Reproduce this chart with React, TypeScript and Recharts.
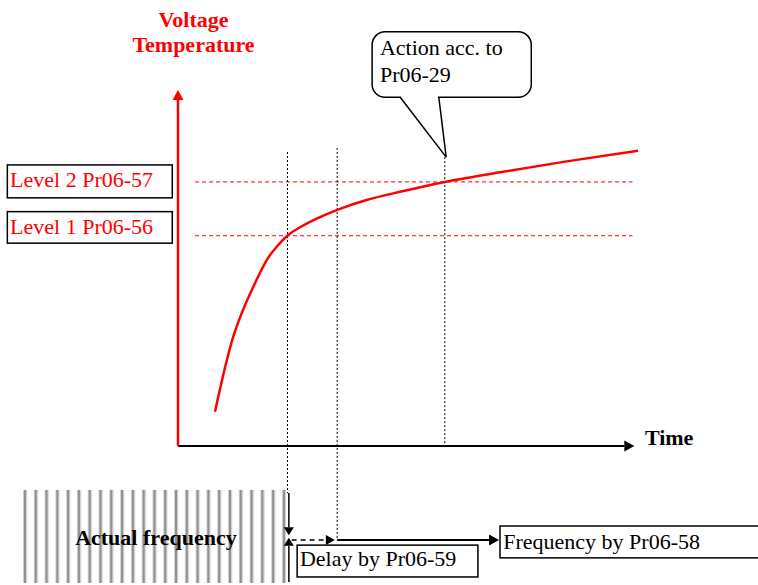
import React from 'react';
import { ComposedChart, Line, XAxis, YAxis, ReferenceLine, ReferenceArea, ReferenceDot } from 'recharts';

// time (x) and voltage/temperature (y) of the rising curve
const timeValues = [8.04, 12.02, 16.37, 19.28, 21.46, 23.76, 26.52, 30.15, 34.63, 41.0, 48.26, 58.04, 70.0, 84.5, 100];
const signalValues = [9.7, 30.9, 45.0, 52.5, 56.3, 59.4, 61.8, 64.2, 66.7, 69.5, 71.8, 74.6, 77.3, 80.4, 83.4];

// level thresholds
const levelValues = [59.4, 74.6];
const levelLabels = ['Level 1 Pr06-56', 'Level 2 Pr06-57'];
const levelBoxBottoms = [57.3, 70.1];
const levelBoxTops = [66.2, 79.4];
const levelTextY = [59.9, 73.2];

// event times: level 1 crossed, delay elapsed, level 2 crossed
const markerTimes = [23.8, 34.6, 58.0];
const markerTops = [83.05, 84.2, 81.6];
const markerBottoms = [-13.3, -26.55, 0];

const curveData = timeValues.map((t, i) => ({ t, v: signalValues[i] }));

const FONT = '"Liberation Serif", "Times New Roman", serif';
const RED = '#ff0000';

type Note = { x: number; y: number; text: string; anchor: 'start' | 'middle' | 'end'; color: string; bold?: boolean };

const notes: Note[] = [
  { x: 3.37, y: 118.4, text: 'Voltage', anchor: 'middle', color: RED, bold: true },
  { x: 3.37, y: 111.3, text: 'Temperature', anchor: 'middle', color: RED, bold: true },
  { x: 101.5, y: 0.28, text: 'Time', anchor: 'start', color: '#000', bold: true },
  { x: -36.5, y: levelTextY[1], text: levelLabels[1], anchor: 'start', color: RED },
  { x: -36.5, y: levelTextY[0], text: levelLabels[0], anchor: 'start', color: RED },
  { x: 43.9, y: 110.5, text: 'Action acc. to', anchor: 'start', color: '#000' },
  { x: 43.9, y: 102.8, text: 'Pr06-29', anchor: 'start', color: '#000' },
  { x: -4.8, y: -28.0, text: 'Actual frequency', anchor: 'middle', color: '#000', bold: true },
  { x: 26.5, y: -33.9, text: 'Delay by Pr06-59', anchor: 'start', color: '#000' },
  { x: 70.7, y: -29.1, text: 'Frequency by Pr06-58', anchor: 'start', color: '#000' },
];

const textShape = (n: Note) => (p: any) => (
  <text
    x={p.cx}
    y={p.cy}
    textAnchor={n.anchor}
    fill={n.color}
    fontWeight={n.bold ? 'bold' : 'normal'}
    fontSize={22}
    fontFamily={FONT}
  >
    {n.text}
  </text>
);

const arrowShape = (color: string, width: number, dash?: string, hl = 10, hw = 5.5) => (p: any) => {
  const { x1, y1, x2, y2 } = p;
  const dx = x2 - x1;
  const dy = y2 - y1;
  const len = Math.hypot(dx, dy) || 1;
  const ux = dx / len;
  const uy = dy / len;
  const bx = x2 - ux * hl;
  const by = y2 - uy * hl;
  return (
    <g>
      <line x1={x1} y1={y1} x2={bx} y2={by} stroke={color} strokeWidth={width} strokeDasharray={dash} />
      <polygon
        points={`${x2},${y2} ${bx - uy * hw},${by + ux * hw} ${bx + uy * hw},${by - ux * hw}`}
        fill={color}
      />
    </g>
  );
};

const plainLine = (color: string, width: number, dash?: string) => (p: any) => (
  <line x1={p.x1} y1={p.y1} x2={p.x2} y2={p.y2} stroke={color} strokeWidth={width} strokeDasharray={dash} />
);

const boxShape = (rx = 0) => (p: any) => (
  <rect x={p.x} y={p.y} width={p.width} height={p.height} rx={rx} ry={rx} fill="#fff" stroke="#000" strokeWidth={1.5} />
);

const stripeShape = (p: any) => (
  <g>
    <defs>
      <pattern id="freqStripes" patternUnits="userSpaceOnUse" x={p.x} y={p.y} width={10.79} height={10}>
        <rect x={0} y={0} width={1} height={10} fill="#d0d0d0" />
        <rect x={1} y={0} width={2.2} height={10} fill="#8f8f8f" />
        <rect x={3.2} y={0} width={1} height={10} fill="#c8c8c8" />
      </pattern>
    </defs>
    <rect x={p.x} y={p.y} width={p.width} height={p.height} fill="url(#freqStripes)" />
  </g>
);

export default function App() {
  return (
    <div style={{ position: 'fixed', left: 0, top: 0, width: 758, height: 585, background: '#fff' }}>
      <ComposedChart
        width={758}
        height={585}
        data={curveData}
        margin={{ top: 92, right: 120, bottom: 139, left: 178 }}
      >
        <XAxis dataKey="t" type="number" domain={[0, 100]} hide />
        <YAxis type="number" domain={[0, 100]} hide />

        {/* striped actual-frequency block */}
        <ReferenceArea x1={-33.7} x2={23.6} y1={-38.7} y2={-12.4} ifOverflow="visible" shape={stripeShape} />

        {/* level label boxes */}
        {levelValues.map((lv, i) => (
          <ReferenceArea
            key={`lb${i}`}
            x1={-37.1}
            x2={-1.24}
            y1={levelBoxBottoms[i]}
            y2={levelBoxTops[i]}
            ifOverflow="visible"
            shape={boxShape(0)}
          />
        ))}

        {/* delay / frequency boxes */}
        <ReferenceArea x1={25.9} x2={65.2} y1={-37.0} y2={-28.0} ifOverflow="visible" shape={boxShape(0)} />
        <ReferenceArea x1={70.0} x2={126.5} y1={-31.6} y2={-22.6} ifOverflow="visible" shape={boxShape(0)} />

        {/* callout */}
        <ReferenceArea x1={42.2} x2={76.8} y1={98.5} y2={117.0} ifOverflow="visible" shape={boxShape(13)} />
        <ReferenceLine segment={[{ x: 48.5, y: 98.5 }, { x: 56.5, y: 98.5 }]} ifOverflow="visible" shape={plainLine('#fff', 3)} />
        <ReferenceLine segment={[{ x: 48.3, y: 98.5 }, { x: 58.3, y: 81.6 }]} ifOverflow="visible" shape={plainLine('#000', 1.5)} />
        <ReferenceLine segment={[{ x: 56.7, y: 98.5 }, { x: 58.3, y: 81.6 }]} ifOverflow="visible" shape={plainLine('#000', 1.5)} />

        {/* level dashed lines */}
        {levelValues.map((lv, i) => (
          <ReferenceLine
            key={`lv${i}`}
            segment={[{ x: 3.7, y: lv }, { x: 98.8, y: lv }]}
            ifOverflow="visible"
            shape={plainLine(RED, 1, '4 3')}
          />
        ))}

        {/* vertical dotted event lines */}
        {markerTimes.map((mt, i) => (
          <ReferenceLine
            key={`mt${i}`}
            segment={[{ x: mt, y: markerTops[i] }, { x: mt, y: markerBottoms[i] }]}
            ifOverflow="visible"
            shape={plainLine('#000', 1, '2 2')}
          />
        ))}

        {/* axes with arrows */}
        <ReferenceLine segment={[{ x: 0, y: 0 }, { x: 99.2, y: 0 }]} ifOverflow="visible" shape={arrowShape('#000', 2, undefined, 10, 5.5)} />
        <ReferenceLine segment={[{ x: 0, y: 0 }, { x: 0, y: 100.6 }]} ifOverflow="visible" shape={arrowShape(RED, 2.5, undefined, 10, 5.5)} />

        {/* frequency arrows */}
        <ReferenceLine segment={[{ x: 24.1, y: -13.3 }, { x: 24.1, y: -25.2 }]} ifOverflow="visible" shape={arrowShape('#000', 1.5, undefined, 8, 5)} />
        <ReferenceLine segment={[{ x: 24.1, y: -38.4 }, { x: 24.1, y: -25.9 }]} ifOverflow="visible" shape={arrowShape('#000', 1.5, undefined, 8, 5)} />
        <ReferenceLine segment={[{ x: 24.7, y: -26.55 }, { x: 34.1, y: -26.55 }]} ifOverflow="visible" shape={arrowShape('#000', 1.5, '5 4', 9, 5)} />
        <ReferenceLine segment={[{ x: 34.6, y: -26.55 }, { x: 69.8, y: -26.55 }]} ifOverflow="visible" shape={arrowShape('#000', 2, undefined, 10, 5.5)} />

        <Line
          type="natural"
          dataKey="v"
          stroke={RED}
          strokeWidth={2.5}
          dot={false}
          activeDot={false}
          isAnimationActive={false}
        />

        {notes.map((n, i) => (
          <ReferenceDot key={`n${i}`} x={n.x} y={n.y} r={0} ifOverflow="visible" shape={textShape(n)} />
        ))}
      </ComposedChart>
    </div>
  );
}
